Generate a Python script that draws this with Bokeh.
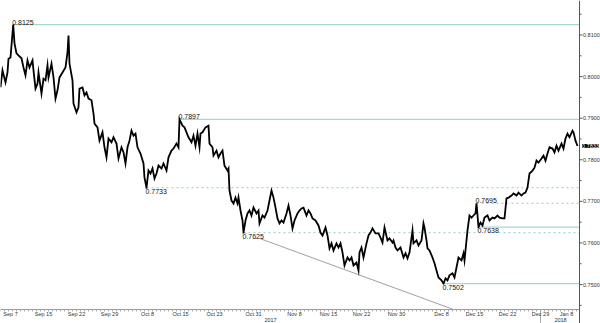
import math
from bokeh.plotting import figure
from bokeh.models import Range1d, Label, Span
from bokeh.core.properties import value
from bokeh.embed import file_html
from bokeh.resources import INLINE

# --- data (x = 4-hour bar index from start of chart, y = exchange rate) ---
bar = [0, 2, 5, 7, 8, 10, 12.7, 14, 16, 18, 21, 23, 25, 27, 29, 32, 33, 35, 37, 38, 41, 43, 45, 47, 48, 51, 53, 55, 57, 59,
       62, 65, 67, 68, 69, 72, 73, 76, 78, 79, 82, 84, 86, 88, 91, 93, 94, 97, 99, 102, 104, 106, 108, 111, 113, 116, 118,
       121, 123, 125, 127, 129, 131, 133, 135, 137, 140, 143, 144, 146, 148, 150, 152, 154, 156, 158, 161, 163, 166, 168,
       171, 173, 176, 178, 179, 182, 184, 186, 188, 191, 193, 195, 197, 199,
       200, 202, 205, 208, 209, 212, 213, 216, 218, 220, 222, 224, 227, 228, 229, 231, 233, 235, 237, 238, 240, 242, 243,
       245, 247, 249, 251, 253, 256, 258, 259, 262, 264, 267, 269, 271, 273, 275, 277, 279, 281, 283, 286, 288, 290, 292,
       294, 297, 299, 301, 303, 306, 308, 310, 312, 315, 318, 320, 322, 325, 327, 329, 331, 333, 336, 338, 340, 342, 344,
       347, 349, 351, 353, 356, 358, 359, 361, 363, 366, 368, 370, 372, 375, 378, 380, 382, 384, 387, 389,
       392, 393, 395, 397, 400, 403, 405, 407, 409, 412, 413, 416, 418, 421, 423, 424, 426, 427, 429, 432, 434, 436, 438,
       441, 443, 445, 447, 449, 452, 454, 456, 458, 461, 463, 464, 466, 467, 469, 471, 473, 475, 476, 478, 480, 482, 484,
       487, 489, 492, 494, 497, 499, 502, 504, 506, 508, 511, 513, 516, 518, 521, 523, 525, 527, 529, 532, 534, 536, 538,
       541, 543, 545, 547, 549, 552, 554, 556, 558, 561, 563, 565, 567, 569, 572, 573, 575, 577]
rate = [0.7974, 0.8015, 0.7986, 0.8010, 0.8043, 0.8046, 0.8125, 0.8080, 0.8056, 0.8051, 0.8044, 0.8022, 0.8003, 0.8039,
        0.8022, 0.8039, 0.8015, 0.7971, 0.7983, 0.8010, 0.7959, 0.7995, 0.7991, 0.8027, 0.7998, 0.8031, 0.7998, 0.7947,
        0.7967, 0.7998, 0.8010, 0.8022, 0.8058, 0.8099, 0.8031, 0.7991, 0.7935, 0.7914, 0.7926, 0.7971, 0.7974, 0.7955,
        0.7962, 0.7947, 0.7943, 0.7911, 0.7887, 0.7878, 0.7846, 0.7866, 0.7830, 0.7806, 0.7851, 0.7842, 0.7854, 0.7839,
        0.7803, 0.7830, 0.7818, 0.7791, 0.7830, 0.7846, 0.7870, 0.7858, 0.7863, 0.7830, 0.7815, 0.7791, 0.7757, 0.7733,
        0.7774, 0.7767, 0.7779, 0.7755, 0.7767, 0.7786, 0.7779, 0.7791, 0.7774, 0.7806, 0.7822, 0.7827, 0.7839, 0.7830,
        0.7897, 0.7882, 0.7878, 0.7866, 0.7854, 0.7842, 0.7858, 0.7834, 0.7863, 0.7830,
        0.7863, 0.7866, 0.7878, 0.7882, 0.7839, 0.7830, 0.7810, 0.7822, 0.7806, 0.7815, 0.7822, 0.7786, 0.7774, 0.7779,
        0.7726, 0.7702, 0.7695, 0.7709, 0.7695, 0.7709, 0.7678, 0.7654, 0.7625, 0.7654, 0.7671, 0.7678, 0.7666, 0.7685,
        0.7671, 0.7678, 0.7647, 0.7666, 0.7661, 0.7678, 0.7702, 0.7726, 0.7709, 0.7685, 0.7659, 0.7647, 0.7654, 0.7649,
        0.7671, 0.7690, 0.7666, 0.7635, 0.7654, 0.7671, 0.7678, 0.7683, 0.7685, 0.7666, 0.7678, 0.7671, 0.7659, 0.7654,
        0.7642, 0.7625, 0.7618, 0.7637, 0.7618, 0.7587, 0.7599, 0.7582, 0.7599, 0.7589, 0.7599, 0.7577, 0.7546, 0.7565,
        0.7558, 0.7565, 0.7546, 0.7553, 0.7534, 0.7577, 0.7589, 0.7565, 0.7599, 0.7618, 0.7625, 0.7635, 0.7623, 0.7623,
        0.7613, 0.7601, 0.7637, 0.7606, 0.7611,
        0.7601, 0.7606, 0.7589, 0.7582, 0.7589, 0.7565, 0.7575, 0.7563, 0.7577, 0.7630, 0.7599, 0.7606, 0.7594, 0.7606,
        0.7647, 0.7637, 0.7606, 0.7587, 0.7582, 0.7565, 0.7551, 0.7534, 0.7517, 0.7510, 0.7502, 0.7515, 0.7510, 0.7522,
        0.7527, 0.7517, 0.7541, 0.7565, 0.7558, 0.7575, 0.7558, 0.7606, 0.7630, 0.7666, 0.7661, 0.7666, 0.7671, 0.7695,
        0.7638, 0.7649, 0.7642, 0.7661, 0.7666, 0.7654, 0.7661, 0.7659, 0.7666, 0.7661, 0.7659, 0.7659, 0.7707, 0.7709,
        0.7714, 0.7719, 0.7714, 0.7721, 0.7714, 0.7719, 0.7721, 0.7733, 0.7767, 0.7774, 0.7781, 0.7798, 0.7793, 0.7803,
        0.7810, 0.7798, 0.7815, 0.7830, 0.7827, 0.7818, 0.7834, 0.7822, 0.7839, 0.7827, 0.7851, 0.7863, 0.7854, 0.7870,
        0.7866, 0.7846, 0.7833]

# key levels: value, bar where it starts, line style, label side
level_value = [0.8125, 0.7897, 0.7733, 0.7625, 0.7695, 0.7638, 0.7502]
level_bar = [12.7, 179, 146, 243, 476, 478, 443]
level_dashed = [False, False, True, True, True, False, False]
level_above = [True, True, False, False, True, False, False]

# falling trend line through the lows
trend_bar = [243, 453]
trend_rate = [0.7625, 0.7440]

# x tick labels (positions in bars)
tick_bar = [10, 43, 76, 109, 147, 180, 214, 253, 294, 328, 361, 396, 441, 474, 507, 540, 566]
tick_label = ["Sep 7", "Sep 15", "Sep 22", "Sep 29", "Oct 8", "Oct 15", "Oct 23", "Oct 31", "Nov 8", "Nov 15",
              "Nov 22", "Nov 30", "Dec 8", "Dec 15", "Dec 22", "Dec 29", "Jan 8"]
year_bar = [270, 560]
year_label = ["2017", "2018"]
year_break_bar = [540]

y_ticks = [0.75, 0.76, 0.77, 0.78, 0.79, 0.80, 0.81]
y_minor = [0.745, 0.755, 0.765, 0.775, 0.785, 0.795, 0.805, 0.815]

X_END = 579          # bar where the price scale sits
X_MAX = 600
Y_AXIS = 0.7440      # rate where the time axis sits
Y_MIN, Y_MAX = 0.74063, 0.8183
FONT = "Liberation Sans"
LEVEL_COLOR = "#a8d8cc"
AXIS_COLOR = "#555555"
TEXT_COLOR = "#333333"

p = figure(width=600, height=323, output_backend="svg", toolbar_location=None,
           x_range=Range1d(0, X_MAX), y_range=Range1d(Y_MIN, Y_MAX),
           x_axis_location=None, y_axis_location=None, min_border=0)
p.outline_line_color = None
p.xgrid.visible = False
p.ygrid.visible = False
p.background_fill_color = "white"

# level lines
for v, b, d in zip(level_value, level_bar, level_dashed):
    p.segment(x0=[b], y0=[v], x1=[X_END], y1=[v], line_color=LEVEL_COLOR, line_width=1.3,
              line_dash="2 3" if d else "solid")

# trend line
p.line(trend_bar, trend_rate, line_color="#a0a0a0", line_width=1)

# price
p.line(bar, rate, line_color="black", line_width=1.8, line_join="miter")

# level labels
for v, b, a in zip(level_value, level_bar, level_above):
    p.add_layout(Label(x=b, y=v, text=f"{v:.4f}", text_font=FONT, text_font_size="7px",
                       text_color="#111111", text_baseline="bottom" if a else "top",
                       y_offset=0 if a else -1, x_offset=-1,
                       background_fill_color="white", background_fill_alpha=0.0 if a else 1.0))

# ---- time axis (drawn inside the frame) ----
p.segment(x0=[0], y0=[Y_AXIS], x1=[X_END], y1=[Y_AXIS], line_color="#999999", line_width=1)
minor_x = list(range(0, X_END, 4))
p.ray(x=minor_x, y=[Y_AXIS] * len(minor_x), length=2, length_units="screen", angle=-math.pi / 2,
      line_color="#aaaaaa", line_width=1)
p.ray(x=year_break_bar, y=[Y_AXIS] * len(year_break_bar), length=14, length_units="screen",
      angle=-math.pi / 2, line_color="#aaaaaa", line_width=1)
p.text(x=tick_bar, y=[Y_AXIS] * len(tick_bar), text=tick_label, y_offset=2, text_baseline="top",
       text_align="center", text_font=value(FONT), text_font_size="5.5px", text_color=TEXT_COLOR)
p.text(x=year_bar, y=[Y_AXIS] * len(year_bar), text=year_label, y_offset=8.5, text_baseline="top",
       text_align="center", text_font=value(FONT), text_font_size="5.5px", text_color=TEXT_COLOR)

# ---- price scale on the right (drawn inside the frame) ----
p.add_layout(Span(location=X_END, dimension="height", line_color=AXIS_COLOR, line_width=1))
p.ray(x=[X_END] * len(y_ticks), y=y_ticks, length=3, length_units="screen", angle=0,
      line_color=AXIS_COLOR, line_width=1)
p.ray(x=[X_END] * len(y_minor), y=y_minor, length=2, length_units="screen", angle=0,
      line_color=AXIS_COLOR, line_width=1)
p.text(x=[X_END] * len(y_ticks), y=y_ticks, text=[f"{t:.4f}" for t in y_ticks], x_offset=3.5,
       text_baseline="middle", text_align="left", text_font=value(FONT), text_font_size="5.5px",
       text_color=TEXT_COLOR)

# last price tag
p.add_layout(Label(x=X_END, y=rate[-1], text=f"{rate[-1]:.4f}", text_font=FONT, text_font_size="5.5px",
                   text_color="white", text_baseline="middle", x_offset=2.5,
                   background_fill_color="black", background_fill_alpha=1.0))

open("out.html", "w").write(file_html(p, INLINE))
